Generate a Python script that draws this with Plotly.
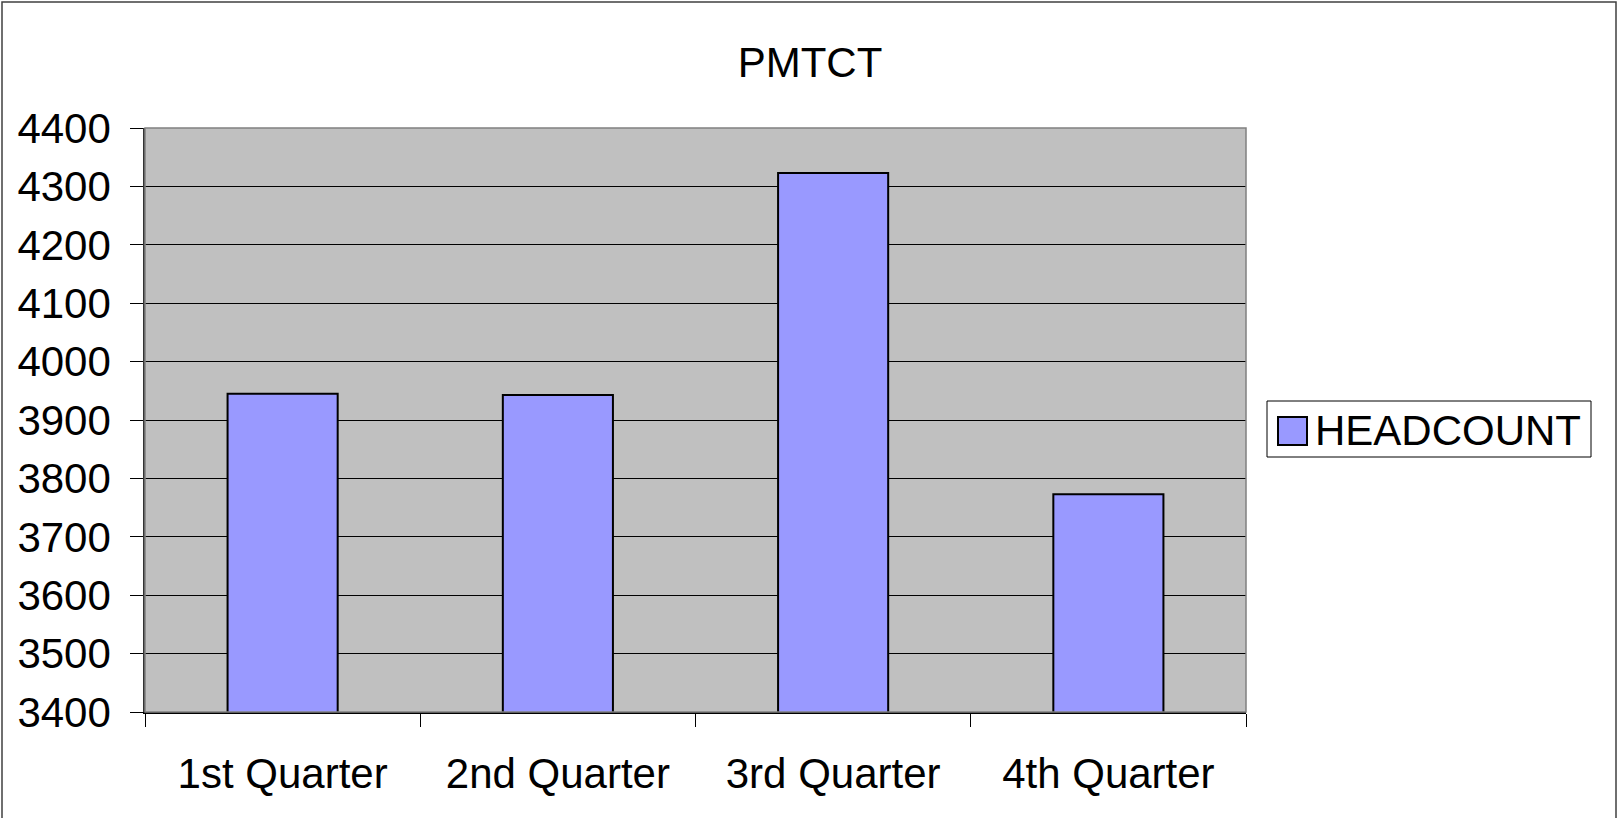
import plotly.graph_objects as go

categories = ["1st Quarter", "2nd Quarter", "3rd Quarter", "4th Quarter"]
headcount = [3945, 3943, 4323, 3773]
series_name = "HEADCOUNT"
title_text = "PMTCT"

FONT = "Liberation Sans, Arial, sans-serif"
BAR_COLOR = "#9999FF"
FS = 42

fig = go.Figure()
fig.add_trace(go.Bar(
    x=categories, y=headcount, name=series_name,
    marker=dict(color=BAR_COLOR, line=dict(color="black", width=2)),
    width=0.4, showlegend=False,
))

fig.update_layout(
    width=1617, height=818,
    margin=dict(l=145, r=371, t=128, b=106),
    paper_bgcolor="white", plot_bgcolor="#C0C0C0",
    font=dict(family=FONT, size=FS, color="black"),
    title=dict(text=title_text, x=(810 / 1617), xanchor="center",
               y=1 - 62 / 818, yanchor="middle",
               font=dict(family=FONT, size=FS, color="black")),
    xaxis=dict(
        type="category", tickson="boundaries", ticks="outside", ticklen=13,
        tickcolor="black", tickwidth=1, showline=True, linecolor="black",
        linewidth=1.5, showgrid=False, tickfont=dict(size=FS),
        ticklabelstandoff=24,
    ),
    yaxis=dict(
        range=[3400, 4400], dtick=100, tick0=3400, ticks="outside", ticklen=13,
        tickcolor="black", tickwidth=1, showline=True, linecolor="#333333",
        linewidth=1.5, showgrid=True, gridcolor="black", gridwidth=1,
        zeroline=False, tickfont=dict(size=FS), ticklabelstandoff=11,
    ),
)

L, T, W, H = 145, 128, 1101, 584


def px(xp):
    return (xp - L) / W


def py(yp):
    return (T + H - yp) / H


shapes = [
    # plot area top/right border (gray)
    dict(type="rect", xref="paper", yref="paper", x0=0, x1=1, y0=0, y1=1,
         line=dict(color="#808080", width=1.5), layer="above"),
    # outer chart border
    dict(type="rect", xref="paper", yref="paper", x0=px(2), x1=px(1616),
         y0=py(840), y1=py(2), line=dict(color="#404040", width=1.5)),
    # legend box
    dict(type="rect", xref="paper", yref="paper", x0=px(1267), x1=px(1591),
         y0=py(457), y1=py(401), line=dict(color="black", width=1),
         fillcolor="white"),
    # legend swatch
    dict(type="rect", xref="paper", yref="paper", x0=px(1278), x1=px(1307),
         y0=py(445), y1=py(417), line=dict(color="black", width=2),
         fillcolor=BAR_COLOR),
]
fig.update_layout(shapes=shapes)
fig.add_annotation(
    text=series_name, xref="paper", yref="paper", x=px(1313), y=py(430),
    xanchor="left", yanchor="middle", showarrow=False,
    font=dict(family=FONT, size=FS, color="black"),
)

fig.write_html(
    "out.html",
    config={"displayModeBar": False},
    post_script="document.body.style.margin='0';document.body.style.overflow='hidden';",
)
